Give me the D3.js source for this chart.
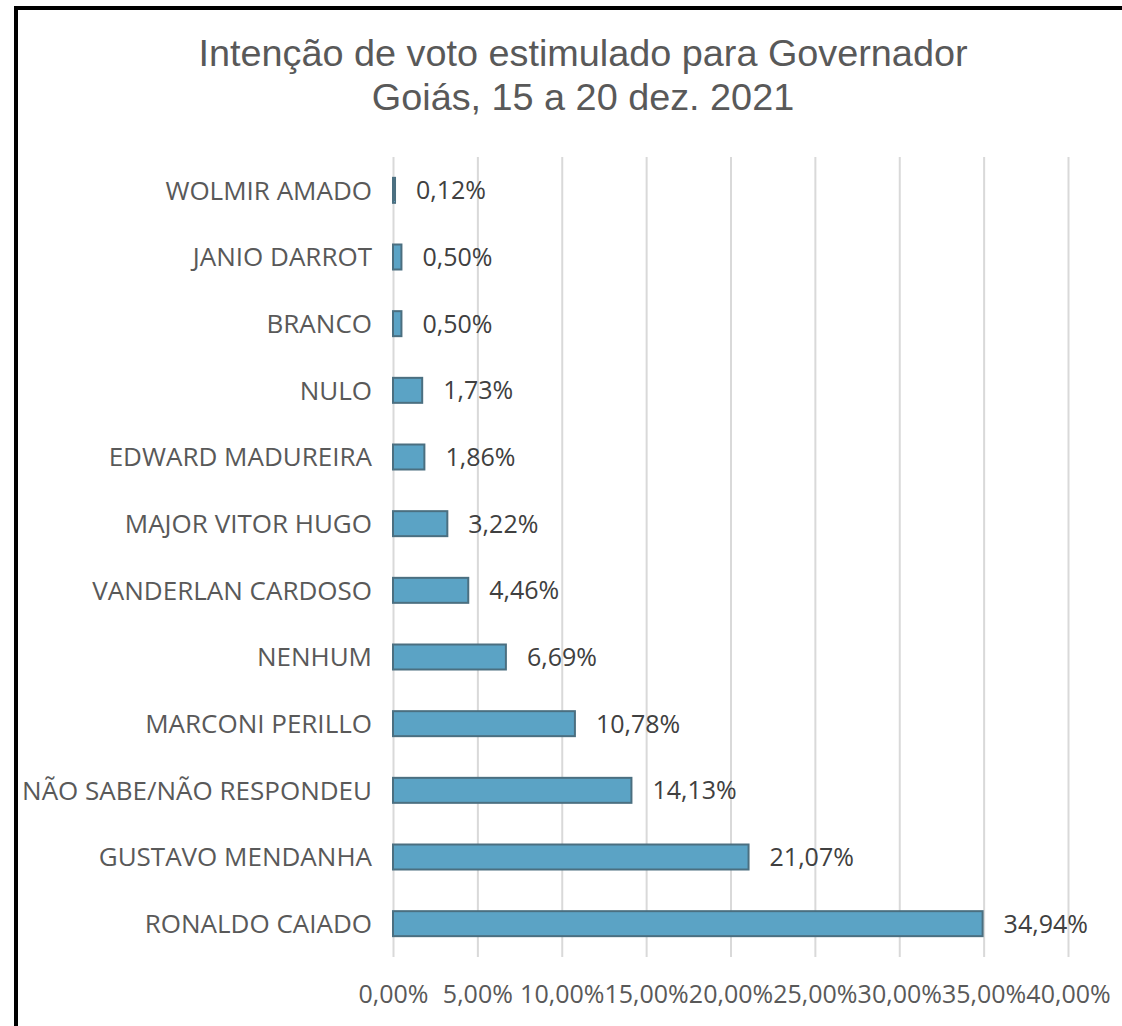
<!DOCTYPE html>
<html>
<head>
<meta charset="utf-8">
<script src="https://cdn.jsdelivr.net/npm/d3@7"></script>
<style>
  html, body { margin: 0; padding: 0; background: #fff; }
  svg { display: block; }
  .grid line { stroke: #d9d9d9; stroke-width: 2; }
  .grid path { display: none; }
  .xlab text { fill: #595959; font-family: "Open Sans", sans-serif; font-size: 25px; }
  .ylab text { fill: #595959; font-family: "Open Sans", sans-serif; font-size: 26px; }
</style>
</head>
<body>
<div id="chart"></div>
<script>
"use strict";

var titleLines = ["Intenção de voto estimulado para Governador", "Goiás, 15 a 20 dez. 2021"];

var candidates = [
	"WOLMIR AMADO",
	"JANIO DARROT",
	"BRANCO",
	"NULO",
	"EDWARD MADUREIRA",
	"MAJOR VITOR HUGO",
	"VANDERLAN CARDOSO",
	"NENHUM",
	"MARCONI PERILLO",
	"NÃO SABE/NÃO RESPONDEU",
	"GUSTAVO MENDANHA",
	"RONALDO CAIADO"
];

var votes = [0.12, 0.50, 0.50, 1.73, 1.86, 3.22, 4.46, 6.69, 10.78, 14.13, 21.07, 34.94];

var xTicks = [0, 5, 10, 15, 20, 25, 30, 35, 40];

var W = 1122, H = 1026;
var margin = { top: 157, right: 54, bottom: 69, left: 393 },
	width = W - margin.left - margin.right,
	height = H - margin.top - margin.bottom;

var fmt = function (v) {
	return v.toFixed(2).replace(".", ",") + "%";
};

var svg = d3.select("#chart").append("svg")
	.attr("width", W)
	.attr("height", H);

// frame lines (left + top)
svg.append("line")
	.attr("x1", 16).attr("x2", 16).attr("y1", 6).attr("y2", H)
	.attr("stroke", "#000").attr("stroke-width", 4);
svg.append("line")
	.attr("x1", 14).attr("x2", W).attr("y1", 8).attr("y2", 8)
	.attr("stroke", "#000").attr("stroke-width", 4);

// title
svg.append("text")
	.attr("text-anchor", "middle")
	.style("font-family", "'Liberation Sans', Arial, sans-serif")
	.style("font-size", "37.8px")
	.style("fill", "#595959")
	.selectAll("tspan")
	.data(titleLines).enter()
	.append("tspan")
	.attr("x", 583)
	.attr("y", function (d, i) { return 66 + i * 44; })
	.text(function (d) { return d; });

var g = svg.append("g")
	.attr("transform", "translate(" + margin.left + "," + margin.top + ")");

var x = d3.scaleLinear().domain([0, 40]).range([0, width]);
var y = d3.scaleBand().domain(candidates).range([0, height]).paddingInner(0.625).paddingOuter(0.3125);

// gridlines
g.append("g")
	.attr("class", "grid")
	.call(d3.axisBottom(x).tickValues(xTicks).tickSize(height).tickFormat(""));

// x tick labels
g.append("g")
	.attr("class", "xlab")
	.attr("transform", "translate(0," + height + ")")
	.call(d3.axisBottom(x).tickValues(xTicks).tickSize(0).tickPadding(28).tickFormat(fmt))
	.call(function (s) { s.select(".domain").remove(); });

// category labels
g.append("g")
	.attr("class", "ylab")
	.call(d3.axisLeft(y).tickSize(0).tickPadding(21))
	.call(function (s) {
		s.select(".domain").remove();
		s.selectAll("text").attr("dy", "0.36em");
	});

// bars
g.selectAll(".bar").data(votes).enter()
	.append("rect")
	.attr("class", "bar")
	.attr("x", x(0))
	.attr("y", function (d, i) { return y(candidates[i]); })
	.attr("width", function (d) { return x(d) - x(0); })
	.attr("height", y.bandwidth())
	.style("fill", "#5ba3c5")
	.style("stroke", "#4b6f80")
	.style("stroke-width", 2);

// value labels
g.selectAll(".value").data(votes).enter()
	.append("text")
	.attr("class", "value")
	.attr("x", function (d) { return x(d) + 21; })
	.attr("y", function (d, i) { return y(candidates[i]) + y.bandwidth() / 2; })
	.attr("dy", "0.36em")
	.style("font-family", "'Open Sans', sans-serif")
	.style("font-size", "25px")
	.style("fill", "#404040")
	.text(fmt);
</script>
</body>
</html>
